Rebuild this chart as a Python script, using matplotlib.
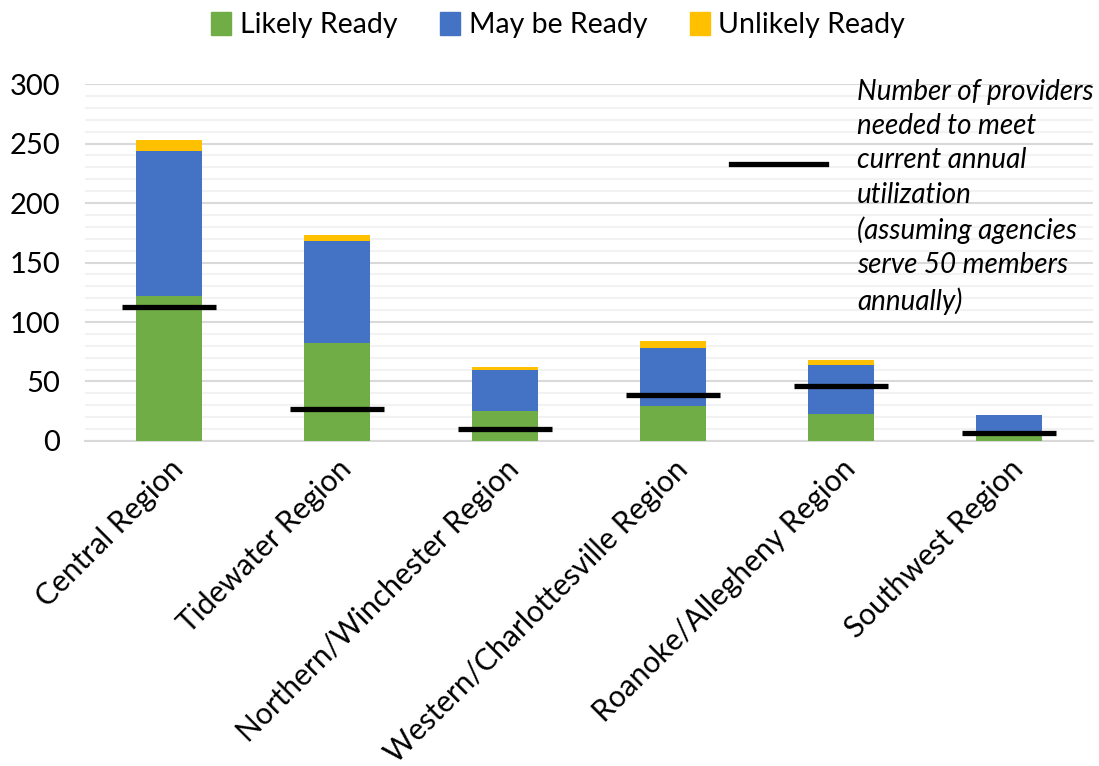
import numpy as np
import matplotlib
matplotlib.use('Agg')
import matplotlib.pyplot as plt
from matplotlib.patches import Patch

plt.rcParams['font.family'] = ['Lato', 'DejaVu Sans']

# Data
regions = ['Central Region', 'Tidewater Region', 'Northern/Winchester Region',
           'Western/Charlottesville Region', 'Roanoke/Allegheny Region', 'Southwest Region']
likely = [122, 82, 25, 29, 23, 5]
may_be = [122, 86, 35, 49, 41, 17]
unlikely = [9, 5, 2, 6, 4, 0]
needed = [113, 27, 10, 39, 46, 7]

green = '#70AD47'
blue = '#4472C4'
yellow = '#FFC000'

fig = plt.figure(figsize=(10.99, 7.66), dpi=100)
ax = fig.add_axes([0.0773, 0.4243, 0.9172, 0.466])

x = np.arange(len(regions))
w = 0.39
likely = np.array(likely)
may_be = np.array(may_be)
unlikely = np.array(unlikely)

ax.bar(x, likely, w, color=green, zorder=3)
ax.bar(x, may_be, w, bottom=likely, color=blue, zorder=3)
ax.bar(x, unlikely, w, bottom=likely + may_be, color=yellow, zorder=3)
ax.hlines(needed, x - 0.28, x + 0.28, color='black', lw=3.8, zorder=4)

ax.set_xlim(-0.5, len(regions) - 0.5)
ax.set_ylim(0, 300)
ax.set_yticks(np.arange(0, 301, 50))
ax.set_yticks(np.arange(0, 301, 10), minor=True)
ax.grid(axis='y', which='minor', color='#F2F2F2', lw=1.5, zorder=0)
ax.grid(axis='y', which='major', color='#D9D9D9', lw=1.5, zorder=1)
for s in ['top', 'right', 'left']:
    ax.spines[s].set_visible(False)
ax.spines['bottom'].set_color('#D9D9D9')
ax.spines['bottom'].set_linewidth(1.5)
ax.tick_params(axis='both', which='both', length=0)
ax.tick_params(axis='y', labelsize=21, pad=18)
ax.set_xticks(x)
ax.set_xticklabels(regions, rotation=45, ha='right', va='top', rotation_mode='anchor',
                   fontsize=21.5)
ax.tick_params(axis='x', pad=10)

# legend
handles = [Patch(color=green), Patch(color=blue), Patch(color=yellow)]
fig.legend(handles, ['Likely Ready', 'May be Ready', 'Unlikely Ready'],
           loc='upper center', bbox_to_anchor=(0.508, 1.018), ncol=3, frameon=False,
           fontsize=20.5, handlelength=0.7, handleheight=0.9, handletextpad=0.3,
           columnspacing=1.5)

# note for the black line
ax.plot([0.641, 0.735], [0.777, 0.777], transform=ax.transAxes, color='black', lw=3.8,
        clip_on=False)
ax.text(0.766, 1.014, 'Number of providers\nneeded to meet\ncurrent annual\nutilization\n'
        '(assuming agencies\nserve 50 members\nannually)',
        transform=ax.transAxes, ha='left', va='top', style='italic', fontsize=20,
        linespacing=1.39)

fig.savefig('out.png', dpi=100)
